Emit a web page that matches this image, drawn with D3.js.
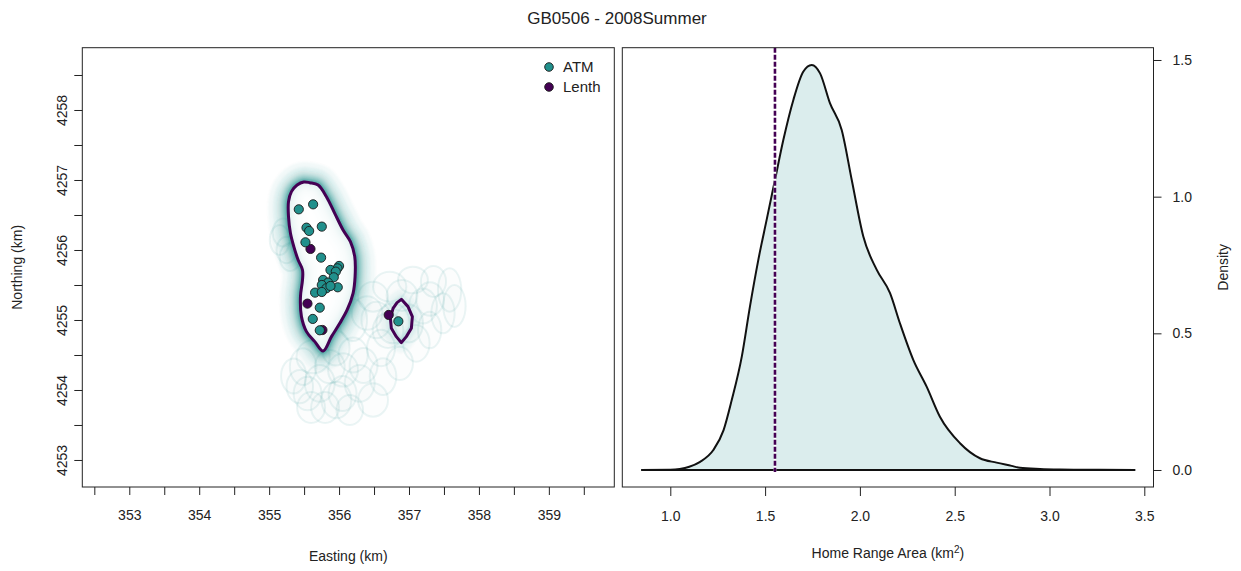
<!DOCTYPE html>
<html><head><meta charset="utf-8">
<script src="https://cdn.jsdelivr.net/npm/d3@7"></script>
<style>
html,body{margin:0;padding:0;background:#fff;}
text{font-family:"Liberation Sans",Arial,Helvetica,sans-serif;fill:#222;}
</style></head>
<body>
<svg id="chart" width="1241" height="571"></svg>
<script>
// ---------- DATA ----------
const title = "GB0506 - 2008Summer";
const legendLabels = ["ATM", "Lenth"];
const eastTicks = [352.5,353,353.5,354,354.5,355,355.5,356,356.5,357,357.5,358,358.5,359,359.5];
const eastLabels = [353,354,355,356,357,358,359];
const northTicks = [4253,4253.5,4254,4254.5,4255,4255.5,4256,4256.5,4257,4257.5,4258,4258.5];
const northLabels = [4253,4254,4255,4256,4257,4258];
const areaTicks = [1.0,1.5,2.0,2.5,3.0,3.5];
const densityTicks = [0.0,0.5,1.0,1.5];

// ATM locations (easting, northing km)
const atmE = [355.424,355.629,355.534,355.572,355.753,355.519,355.743,356.000,355.977,355.877,355.953,355.924,355.772,355.843,355.981,355.753,355.819,355.877,355.657,355.753,355.724,355.624,355.724,356.848];
const atmN = [4256.581,4256.652,4256.319,4256.272,4256.334,4256.110,4255.891,4255.772,4255.738,4255.715,4255.691,4255.610,4255.572,4255.534,4255.467,4255.500,4255.453,4255.486,4255.391,4255.400,4255.176,4255.015,4254.853,4254.981];
// Lenth locations
const lenE = [355.591,355.548,355.762,356.710];
const lenN = [4256.015,4255.234,4254.857,4255.072];

// Home range contour (main lobe)
const hrMainE = [355.581,355.700,355.819,355.938,356.057,356.162,356.224,356.229,356.200,356.115,356.010,355.891,355.772,355.653,355.534,355.462,355.448,355.477,355.477,355.415,355.353,355.305,355.277,355.277,355.319,355.400,355.496];
const hrMainN = [4256.962,4256.929,4256.762,4256.524,4256.286,4256.119,4255.905,4255.619,4255.381,4255.143,4254.953,4254.762,4254.557,4254.691,4254.834,4255.048,4255.334,4255.572,4255.715,4255.857,4256.048,4256.238,4256.476,4256.691,4256.834,4256.929,4256.972];
// Home range contour (small lobe)
const hrSmallE = [356.891,356.986,357.048,357.034,356.962,356.891,356.819,356.748,356.734,356.772,356.829];
const hrSmallN = [4255.295,4255.191,4255.048,4254.881,4254.762,4254.676,4254.762,4254.881,4255.024,4255.167,4255.248];

// faint replicate contours (center E, center N, half-width, half-height, km)
const repE  = [355.486,355.724,355.962,356.153,356.295,356.486,356.629,356.867,357.105,357.295,357.581,357.486,356.724,357.057,356.486,355.629,355.152,355.248,355.867,355.438,356.057,356.771,356.533,355.60,356.20,357.30,
               355.35,355.55,355.80,356.05,356.35,356.60,356.40,356.90,357.20,357.35,357.65,355.20,355.30,356.20,355.95,356.70,357.00];
const repN  = [4254.333,4254.095,4253.857,4253.714,4254.095,4253.857,4254.191,4254.381,4254.667,4254.857,4255.429,4255.095,4255.476,4255.571,4255.333,4254.476,4256.143,4256.000,4254.333,4254.048,4254.286,4254.952,4255.000,4253.75,4254.50,4255.30,
               4254.20,4253.95,4253.75,4253.95,4254.35,4254.60,4255.10,4255.35,4255.20,4255.55,4255.20,4256.25,4255.90,4255.00,4254.60,4254.85,4254.95];
const repRx = [0.190,0.214,0.214,0.190,0.214,0.214,0.190,0.190,0.190,0.167,0.167,0.167,0.238,0.214,0.214,0.238,0.143,0.143,0.214,0.190,0.214,0.238,0.214,0.20,0.21,0.20,
               0.18,0.20,0.20,0.20,0.20,0.20,0.22,0.22,0.20,0.18,0.16,0.15,0.15,0.20,0.20,0.22,0.20];
const repRy = [0.262,0.262,0.262,0.214,0.262,0.238,0.262,0.238,0.262,0.262,0.310,0.286,0.214,0.190,0.214,0.238,0.214,0.190,0.238,0.238,0.238,0.286,0.262,0.22,0.25,0.24,
               0.25,0.24,0.22,0.25,0.25,0.26,0.24,0.22,0.25,0.22,0.30,0.20,0.20,0.30,0.25,0.25,0.27];

// Home range area posterior density
const areaX = [0.847,1.000,1.050,1.100,1.157,1.227,1.281,1.324,1.377,1.420,1.464,1.508,1.552,1.596,1.649,1.701,1.746,1.790,1.842,1.904,1.957,2.018,2.089,2.159,2.211,2.282,2.352,2.422,2.528,2.633,2.721,2.800,2.844,2.950,3.055,3.200,3.452];
const densityY = [0.000,0.001,0.004,0.012,0.030,0.073,0.146,0.256,0.415,0.598,0.768,0.915,1.061,1.207,1.354,1.457,1.482,1.451,1.342,1.244,1.061,0.854,0.732,0.647,0.537,0.402,0.305,0.195,0.098,0.043,0.027,0.015,0.008,0.004,0.002,0.001,0.000];
const lenthArea = 1.552;

// ---------- STYLE ----------
const teal = "#21908C", purple = "#440154";
const svg = d3.select("#chart");
const defs = svg.append("defs");
defs.append("filter").attr("id","blur").attr("x","-20%").attr("y","-20%").attr("width","140%").attr("height","140%")
  .append("feGaussianBlur").attr("stdDeviation",1.2);

const L = {x0:82.3, x1:614.3, y0:47.7, y1:487};
const R = {x0:622.3, x1:1153.5, y0:47.7, y1:487};
const FS = "14px";

const xE = d3.scaleLinear().domain([352.328,359.936]).range([L.x0,L.x1]);
const yN = d3.scaleLinear().domain([4252.614,4258.890]).range([L.y1,L.y0]);
const xA = d3.scaleLinear().domain([0.7468,3.5485]).range([R.x0,R.x1]);
const yD = d3.scaleLinear().domain([-0.0622,1.545]).range([R.y1,R.y0]);

// title
svg.append("text").attr("x",617).attr("y",24).attr("text-anchor","middle")
  .style("font-size","17px").text(title);

// ---------- LEFT PANEL ----------
defs.append("clipPath").attr("id","clipL").append("rect")
  .attr("x",L.x0).attr("y",L.y0).attr("width",L.x1-L.x0).attr("height",L.y1-L.y0);
const gL = svg.append("g").attr("clip-path","url(#clipL)");

// replicate contours
const reps = repE.map((e,i)=>({e, n:repN[i], rx:repRx[i], ry:repRy[i]}));
gL.append("g").selectAll("ellipse").data(reps).join("ellipse")
  .attr("cx",d=>xE(d.e)).attr("cy",d=>yN(d.n))
  .attr("rx",d=>xE(d.e+d.rx)-xE(d.e)).attr("ry",d=>yN(d.n)-yN(d.n+d.ry))
  .attr("fill",teal).attr("fill-opacity",0.015)
  .attr("stroke",teal).attr("stroke-opacity",0.09).attr("stroke-width",2);

const mainPts = hrMainE.map((e,i)=>[e,hrMainN[i]]);
const smallPts = hrSmallE.map((e,i)=>[e,hrSmallN[i]]);
const lineC = d3.line().x(d=>xE(d[0])).y(d=>yN(d[1])).curve(d3.curveCatmullRomClosed.alpha(0.5));
const lineS = d3.line().x(d=>xE(d[0])).y(d=>yN(d[1])).curve(d3.curveLinearClosed);

// halo from bootstrapped contours
const halo = gL.append("g").attr("filter","url(#blur)");
[[40,0.05],[30,0.08],[22,0.12],[15,0.2],[9,0.32],[5,0.45]].forEach(([w,o])=>{
  halo.append("path").attr("d",lineC(mainPts)).attr("fill","none")
    .attr("stroke",teal).attr("stroke-opacity",o).attr("stroke-width",w).attr("stroke-linejoin","round");
});
[[20,0.05],[10,0.08]].forEach(([w,o])=>{
  halo.append("path").attr("d",lineS(smallPts)).attr("fill","none")
    .attr("stroke",teal).attr("stroke-opacity",o).attr("stroke-width",w).attr("stroke-linejoin","round");
});
// interior mostly white
gL.append("path").attr("d",lineC(mainPts)).attr("fill","#fff").attr("fill-opacity",0.85).attr("stroke","none");

// purple contours
gL.append("path").attr("d",lineC(mainPts)).attr("fill","none").attr("stroke",purple).attr("stroke-width",3).attr("stroke-linejoin","round");
gL.append("path").attr("d",lineS(smallPts)).attr("fill","none").attr("stroke",purple).attr("stroke-width",3).attr("stroke-linejoin","round");

// points
const lenPts = lenE.map((e,i)=>[e,lenN[i]]);
const atmPts = atmE.map((e,i)=>[e,atmN[i]]);
gL.append("g").selectAll("circle").data(lenPts).join("circle")
  .attr("cx",d=>xE(d[0])).attr("cy",d=>yN(d[1])).attr("r",4.6)
  .attr("fill",purple).attr("stroke","#1a1a1a").attr("stroke-width",0.9);
gL.append("g").selectAll("circle").data(atmPts).join("circle")
  .attr("cx",d=>xE(d[0])).attr("cy",d=>yN(d[1])).attr("r",4.6)
  .attr("fill",teal).attr("stroke","#1a1a1a").attr("stroke-width",0.9);

// frame
svg.append("rect").attr("x",L.x0).attr("y",L.y0).attr("width",L.x1-L.x0).attr("height",L.y1-L.y0)
  .attr("fill","none").attr("stroke","#222").attr("stroke-width",1);

// legend
const legColors = [teal, purple];
legendLabels.forEach((t,i)=>{
  const y = 67 + i*20;
  svg.append("circle").attr("cx",549).attr("cy",y).attr("r",4.3).attr("fill",legColors[i]).attr("stroke","#1a1a1a").attr("stroke-width",0.9);
  svg.append("text").attr("x",563).attr("y",y+5).style("font-size","15px").text(t);
});

// axes left
const axB = d3.axisBottom(xE).tickValues(eastTicks).tickSize(8).tickPadding(15)
  .tickFormat(d=>eastLabels.includes(d)?d3.format("d")(d):"");
const gxL = svg.append("g").attr("transform",`translate(0,${L.y1})`).call(axB);
gxL.select(".domain").remove();
gxL.selectAll("line").attr("stroke","#222");
gxL.selectAll("text").style("font-size",FS).style("font-family","Liberation Sans, Arial, sans-serif").attr("fill","#222");

const axLft = d3.axisLeft(yN).tickValues(northTicks).tickSize(8).tickPadding(0)
  .tickFormat(d=>northLabels.includes(d)?d3.format("d")(d):"");
const gyL = svg.append("g").attr("transform",`translate(${L.x0},0)`).call(axLft);
gyL.select(".domain").remove();
gyL.selectAll("line").attr("stroke","#222");
gyL.selectAll("text").style("font-size",FS).style("font-family","Liberation Sans, Arial, sans-serif").attr("fill","#222")
  .attr("x",0).attr("dy",0).attr("text-anchor","middle")
  .attr("transform","translate(-15,0) rotate(-90)");

svg.append("text").attr("x",(L.x0+L.x1)/2).attr("y",561).attr("text-anchor","middle").style("font-size",FS).text("Easting (km)");
svg.append("text").attr("transform",`translate(22,${(L.y0+L.y1)/2}) rotate(-90)`).attr("text-anchor","middle").style("font-size",FS).text("Northing (km)");

// ---------- RIGHT PANEL ----------
const dens = areaX.map((x,i)=>[x,densityY[i]]);
const area = d3.area().x(d=>xA(d[0])).y0(yD(0)).y1(d=>yD(d[1])).curve(d3.curveMonotoneX);
const dline = d3.line().x(d=>xA(d[0])).y(d=>yD(d[1])).curve(d3.curveMonotoneX);
svg.append("path").attr("d",area(dens)).attr("fill",teal).attr("fill-opacity",0.16);
svg.append("path").attr("d",dline(dens)).attr("fill","none").attr("stroke","#111").attr("stroke-width",2);
svg.append("line").attr("x1",xA(areaX[0])).attr("x2",xA(areaX[areaX.length-1])).attr("y1",yD(0)).attr("y2",yD(0))
  .attr("stroke","#111").attr("stroke-width",2);
// Lenth estimate line
svg.append("line").attr("x1",xA(lenthArea)).attr("x2",xA(lenthArea)).attr("y1",R.y0).attr("y2",yD(0)+2)
  .attr("stroke","#fff").attr("stroke-width",2.6);
svg.append("line").attr("x1",xA(lenthArea)).attr("x2",xA(lenthArea)).attr("y1",R.y0).attr("y2",yD(0)+2)
  .attr("stroke",purple).attr("stroke-width",2.6).attr("stroke-dasharray","5,2");

svg.append("rect").attr("x",R.x0).attr("y",R.y0).attr("width",R.x1-R.x0).attr("height",R.y1-R.y0)
  .attr("fill","none").attr("stroke","#222").attr("stroke-width",1);

const axBR = d3.axisBottom(xA).tickValues(areaTicks).tickSize(9).tickPadding(15).tickFormat(d3.format(".1f"));
const gxR = svg.append("g").attr("transform",`translate(0,${R.y1})`).call(axBR);
gxR.select(".domain").remove();
gxR.selectAll("line").attr("stroke","#222");
gxR.selectAll("text").style("font-size",FS).style("font-family","Liberation Sans, Arial, sans-serif").attr("fill","#222");

const axRR = d3.axisRight(yD).tickValues(densityTicks).tickSize(8).tickPadding(11).tickFormat(d3.format(".1f"));
const gyR = svg.append("g").attr("transform",`translate(${R.x1},0)`).call(axRR);
gyR.select(".domain").remove();
gyR.selectAll("line").attr("stroke","#222");
gyR.selectAll("text").style("font-size",FS).style("font-family","Liberation Sans, Arial, sans-serif").attr("fill","#222");

const hr = svg.append("text").attr("x",(R.x0+R.x1)/2).attr("y",558).attr("text-anchor","middle").style("font-size",FS);
hr.append("tspan").text("Home Range Area (km");
hr.append("tspan").attr("dy",-5).style("font-size","10px").text("2");
hr.append("tspan").attr("dy",5).text(")");
svg.append("text").attr("transform",`translate(1228,${(R.y0+R.y1)/2}) rotate(-90)`).attr("text-anchor","middle").style("font-size",FS).text("Density");
</script>
</body></html>
